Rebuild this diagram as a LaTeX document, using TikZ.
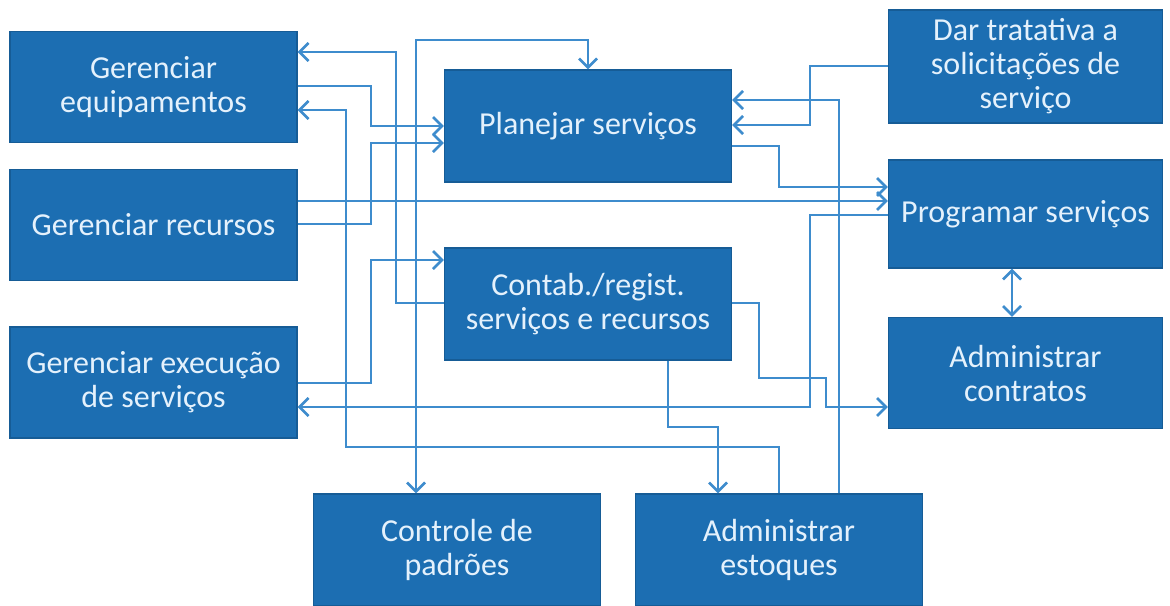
\documentclass[tikz,border=0pt]{standalone}
\usepackage{fontspec}
\setmainfont{Carlito}
\usetikzlibrary{arrows.meta}
\definecolor{boxblue}{RGB}{28,110,178}
\definecolor{boxedge}{RGB}{22,92,150}
\definecolor{lineblue}{RGB}{62,140,205}
\definecolor{txtcol}{RGB}{228,241,252}
\begin{document}
\begin{tikzpicture}[x=0.5pt,y=-0.5pt,
  box/.style={rectangle, fill=boxblue, draw=boxedge, line width=0.6pt, text=txtcol,
    align=center, font=\fontsize{16}{17}\selectfont, inner sep=0pt},
  wbox/.style={box, minimum width=143.5pt, minimum height=55.5pt},
  rbox/.style={box, minimum width=137pt, minimum height=55.5pt},
  conn/.style={draw=lineblue, line width=1.35pt, -{Straight Barb[length=4.5pt,width=9pt]}},
  bconn/.style={draw=lineblue, line width=1.35pt, {Straight Barb[length=4.5pt,width=9pt]}-{Straight Barb[length=4.5pt,width=9pt]}}]
\useasboundingbox (0,0) rectangle (1170,605);
\fill[white] (0,0) rectangle (1170,605);
% nodes
\node[wbox] (GE) at (153.5,87) {Gerenciar\\equipamentos};
\node[wbox] (GR) at (153.5,225) {Gerenciar recursos};
\node[wbox] (GX) at (153.5,382.5) {Gerenciar execução\\de serviços};
\node[wbox, minimum height=56pt] (PS) at (588,126) {Planejar serviços};
\node[wbox, minimum height=56pt] (CR) at (588,304) {Contab./regist.\\serviços e recursos};
\node[rbox, minimum height=56.5pt] (DT) at (1025.5,66.5) {Dar tratativa a\\solicitações de\\serviço};
\node[rbox, minimum height=54pt] (PR) at (1025.5,214) {Programar serviços};
\node[rbox] (AC) at (1025.5,373) {Administrar\\contratos};
\node[wbox, minimum height=56pt] (CP) at (457,550) {Controle de\\padrões};
\node[wbox, minimum height=56pt] (AE) at (779,550) {Administrar\\estoques};
% connectors
\draw[conn] (CR.west |- 0,303) -| (396,52) -- (GE.east |- 0,52);
\draw[conn] (GE.east |- 0,86) -| (371,126) -- (PS.west |- 0,126);
\draw[conn] (AE.north -| 779,0) |- (346,447) |- (GE.east |- 0,110);
\draw[bconn] (PS.north -| 588,0) |- (416,40) -- (CP.north -| 416,0);
\draw[conn] (GR.east |- 0,224) -| (371,143) -- (PS.west |- 0,143);
\draw[conn] (GR.east |- 0,201) -- (PR.west |- 0,201);
\draw[conn] (GX.east |- 0,383) -| (371,260) -- (CR.west |- 0,260);
\draw[conn] (PR.west |- 0,215) -| (810,407) -- (GX.east |- 0,407);
\draw[conn] (DT.west |- 0,66) -| (810,125) -- (PS.east |- 0,125);
\draw[conn] (AE.north -| 839,0) |- (PS.east |- 0,100);
\draw[conn] (PS.east |- 0,146) -| (779,187) -- (PR.west |- 0,187);
\draw[conn] (CR.east |- 0,303) -| (759,378) -| (826,407) -- (AC.west |- 0,407);
\draw[conn] (CR.south -| 668,0) |- (718,427) -- (AE.north -| 718,0);
\draw[bconn] (PR.south -| 1012,0) -- (AC.north -| 1012,0);
\end{tikzpicture}
\end{document}
